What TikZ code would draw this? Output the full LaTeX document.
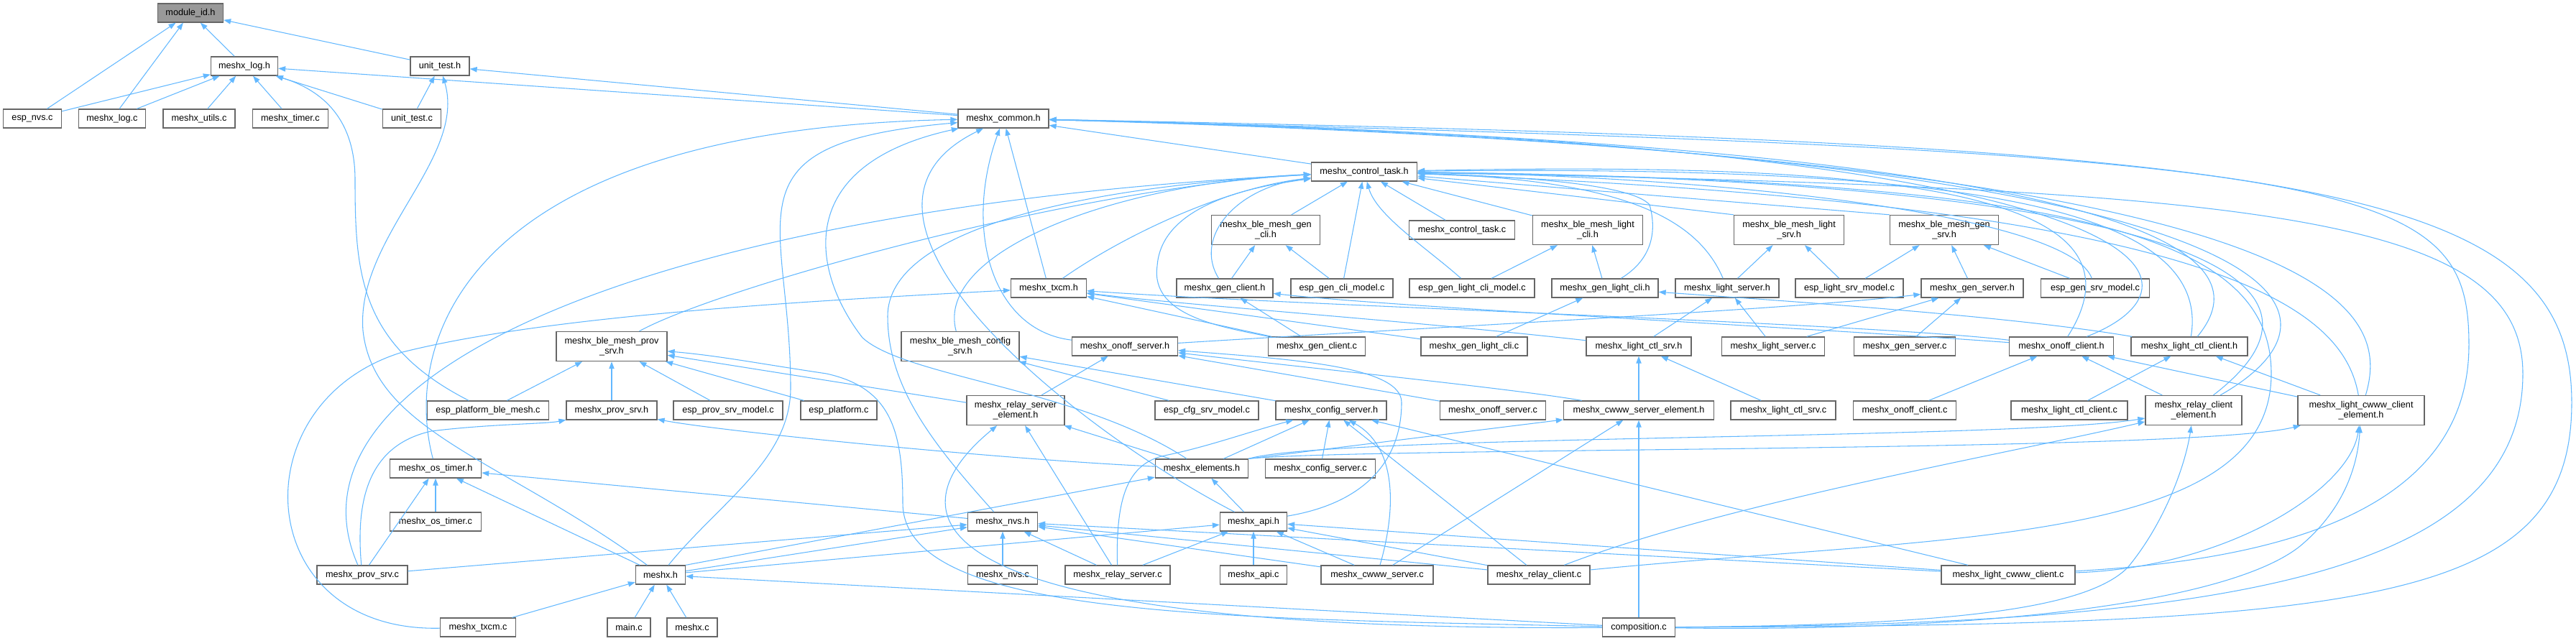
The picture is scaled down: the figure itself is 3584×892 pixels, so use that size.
\documentclass[tikz,border=0pt]{standalone}
\usepackage{fontspec}
\setmainfont{Liberation Sans}
\usetikzlibrary{arrows.meta}
\definecolor{depblue}{HTML}{63B8FF}
\definecolor{boxgray}{HTML}{666666}
\definecolor{rootgray}{HTML}{999999}
\tikzset{
  file/.style={draw=boxgray, line width=1pt, fill=white, inner sep=0pt,
    minimum height=26*0.75pt, font=\fontsize{9.5}{11}\selectfont},
  file2/.style={file, minimum height=41*0.75pt, align=center},
  bw/.style={minimum width=#1*0.75pt},
  dep/.style={draw=depblue, line width=0.8pt, -{Triangle[length=7.5pt,width=5.5pt]}}
}
\begin{document}
\begin{tikzpicture}[x=0.75pt, y=-0.75pt]
\useasboundingbox (0,0) rectangle (3584,892);
% one-line file boxes
\foreach \n/\x/\y/\w/\t in {
  logh/340/92/93/{meshx\_log.h}, uth/612/92/82/{unit\_test.h},
  nvsc/45/165/81/{esp\_nvs.c}, logc/156/165/93/{meshx\_log.c}, utilsc/277/165/100/{meshx\_utils.c},
  timerc/404/165/105/{meshx\_timer.c}, utc/573/165/81/{unit\_test.c}, commonh/1396/165/126/{meshx\_common.h},
  ctlh/1898/239/147/{meshx\_control\_task.h}, ctltaskc/2034/320/147/{meshx\_control\_task.c},
  txcmh/1459/401/105/{meshx\_txcm.h}, genclih/1704/401/134/{meshx\_gen\_client.h},
  espgenclic/1867/401/142/{esp\_gen\_cli\_model.c}, espgenlightclic/2048/401/174/{esp\_gen\_light\_cli\_model.c},
  genlightclih/2233/401/148/{meshx\_gen\_light\_cli.h}, lightsrvh/2403/401/144/{meshx\_light\_server.h},
  esplightsrvc/2573/401/150/{esp\_light\_srv\_model.c}, gensrvh/2744/401/142/{meshx\_gen\_server.h},
  espgensrvc/2915/401/151/{esp\_gen\_srv\_model.c},
  onoffsrvh/1565/482/147/{meshx\_onoff\_server.h}, genclic/1832/482/135/{meshx\_gen\_client.c},
  genlightclic/2051/482/148/{meshx\_gen\_light\_cli.c}, lightctlsrvh/2280/482/146/{meshx\_light\_ctl\_srv.h},
  lightsrvc/2467/482/143/{meshx\_light\_server.c}, gensrvc/2650/482/141/{meshx\_gen\_server.c},
  onoffclih/2868/482/145/{meshx\_onoff\_client.h}, lightctlclih/3046/482/162/{meshx\_light\_ctl\_client.h},
  espplatblec/679/571/169/{esp\_platform\_ble\_mesh.c}, provsrvh/851/571/126/{meshx\_prov\_srv.h},
  espprovsrvc/1013/571/152/{esp\_prov\_srv\_model.c}, espplatc/1167/571/106/{esp\_platform.c},
  espcfgsrvc/1679/571/144/{esp\_cfg\_srv\_model.c}, cfgsrvh/1852/571/154/{meshx\_config\_server.h},
  onoffsrvc/2077/571/147/{meshx\_onoff\_server.c}, cwwwsrvelh/2280/571/209/{meshx\_cwww\_server\_element.h},
  lightctlsrvc/2481/571/146/{meshx\_light\_ctl\_srv.c}, onoffclic/2650/571/143/{meshx\_onoff\_client.c},
  lightctlclic/2879/571/162/{meshx\_light\_ctl\_client.c},
  ostimerh/606/652/127/{meshx\_os\_timer.h}, elementsh/1672/652/129/{meshx\_elements.h},
  cfgsrvc/1837/652/153/{meshx\_config\_server.c},
  ostimerc/606/726/127/{meshx\_os\_timer.c}, nvsh/1395/726/97/{meshx\_nvs.h}, apih/1744/726/93/{meshx\_api.h},
  provsrvc/504/800/126/{meshx\_prov\_srv.c}, meshxh/919/800/69/{meshx.h}, mnvsc/1395/800/97/{meshx\_nvs.c},
  relaysrvc/1555/800/146/{meshx\_relay\_server.c}, apic/1744/800/93/{meshx\_api.c},
  cwwwsrvc/1916/800/156/{meshx\_cwww\_server.c}, relayclic/2141/800/142/{meshx\_relay\_client.c},
  lcwwwclic/2794/800/186/{meshx\_light\_cwww\_client.c},
  txcmc/665/873/105/{meshx\_txcm.c}, mainc/875/873/60/{main.c}, meshxc/963/873/70/{meshx.c},
  compc/2280/873/101/{composition.c}}
  \node[file, bw=\w] (\n) at (\x,\y) {\t};
% two-line file boxes
\foreach \n/\x/\y/\w/\t in {
  gencliblh/1761/320/151/{meshx\_ble\_mesh\_gen\\\_cli.h}, lightcliblh/2209/320/153/{meshx\_ble\_mesh\_light\\\_cli.h},
  lightsrvblh/2489/320/153/{meshx\_ble\_mesh\_light\\\_srv.h}, gensrvblh/2705/320/151/{meshx\_ble\_mesh\_gen\\\_srv.h},
  provblh/851/482/154/{meshx\_ble\_mesh\_prov\\\_srv.h}, cfgblh/1336/482/164/{meshx\_ble\_mesh\_config\\\_srv.h},
  relaysrvelh/1413/571/136/{meshx\_relay\_server\\\_element.h}, relayclielh/3052/571/134/{meshx\_relay\_client\\\_element.h},
  lcwwwclielh/3285/571/176/{meshx\_light\_cwww\_client\\\_element.h}}
  \node[file2, bw=\w] (\n) at (\x,\y) {\t};
\node[file, bw=91, fill=rootgray] (modid) at (265,18) {module\_id.h};
% straight dependencies
\foreach \a/\b in {nvsc/modid, logc/modid, logh/modid, uth/modid, nvsc/logh, logc/logh, utilsc/logh,
  timerc/logh, utc/logh, utc/uth, commonh/uth, commonh/logh, ctlh/commonh, txcmh/commonh,
  gencliblh/ctlh, espgenclic/ctlh, ctltaskc/ctlh, lightcliblh/ctlh, lightsrvblh.north west/ctlh,
  gensrvblh.north west/ctlh,
  genclic/txcmh, genlightclic/txcmh, genclic/genclih, genclih/gencliblh, espgenclic/gencliblh,
  espgenlightclic/lightcliblh, genlightclih/lightcliblh, genlightclic/genlightclih,
  lightsrvh/lightsrvblh, esplightsrvc/lightsrvblh, esplightsrvc/gensrvblh, gensrvh/gensrvblh,
  espgensrvc/gensrvblh, lightctlsrvh/lightsrvh, lightsrvc/lightsrvh, lightsrvc/gensrvh, gensrvc/gensrvh,
  lightctlsrvc/lightctlsrvh, cwwwsrvelh/lightctlsrvh, onoffsrvc/onoffsrvh, relaysrvelh/onoffsrvh,
  onoffclic/onoffclih, relayclielh/onoffclih, lcwwwclielh/onoffclih, lightctlclic/lightctlclih,
  lcwwwclielh/lightctlclih, espplatblec/provblh, provsrvh/provblh, espprovsrvc/provblh, espplatc/provblh,
  relaysrvelh/provblh, espcfgsrvc/cfgblh, cfgsrvh/cfgblh, elementsh/relaysrvelh,
  elementsh.north east/cwwwsrvelh, elementsh/cfgsrvh, meshxh.north east/elementsh, apih/elementsh,
  relaysrvc/relaysrvelh, cfgsrvc/cfgsrvh, relayclic/cfgsrvh, lcwwwclic/cfgsrvh, cwwwsrvc/cwwwsrvelh,
  compc/cwwwsrvelh, ostimerc/ostimerh, provsrvc/ostimerh, meshxh/ostimerh, nvsh/ostimerh, meshxh/nvsh,
  meshxh/apih, provsrvc/nvsh, mnvsc/nvsh, relaysrvc/nvsh, cwwwsrvc/nvsh, relayclic/nvsh, lcwwwclic/nvsh,
  apic/apih, relaysrvc/apih, cwwwsrvc/apih, relayclic/apih, lcwwwclic/apih, txcmc/meshxh, mainc/meshxh,
  meshxc/meshxh, compc/meshxh}
  \draw[dep] (\a) -- (\b);
% curved dependencies, left part
\draw[dep] (espplatblec) .. controls (500,480) and (494,380) .. (494,250) .. controls (494,150) and (430,120) .. (logh);
\draw[dep] (meshxh) .. controls (700,640) and (520,600) .. (505,460) .. controls (495,330) and (650,220) .. (uth);
\draw[dep] (ostimerh) .. controls (560,480) and (640,180) .. (commonh);
\draw[dep] (meshxh) .. controls (1000,700) and (1100,640) .. (1100,540) .. controls (1100,300) and (1000,200) .. (commonh);
\draw[dep] (elementsh) .. controls (1500,540) and (1260,525) .. (1200,470) .. controls (1130,380) and (1100,230) .. (commonh);
\draw[dep] (apih) .. controls (1500,600) and (1120,300) .. (commonh);
\draw[dep] (onoffsrvh) .. controls (1380,460) and (1340,320) .. (commonh);
\draw[dep] (provsrvc) .. controls (380,520) and (900,290) .. (ctlh);
\draw[dep] (provblh) .. controls (1000,400) and (1500,260) .. (ctlh);
\draw[dep] (cfgblh) .. controls (1300,350) and (1550,255) .. (ctlh);
\draw[dep] (nvsh) .. controls (1300,620) and (1235,540) .. (1235,440) .. controls (1235,320) and (1500,260) .. (ctlh);
\draw[dep] (txcmh) .. controls (1560,330) and (1700,262) .. (ctlh);
\draw[dep] (genclih) .. controls (1660,330) and (1720,260) .. (ctlh);
\draw[dep] (genclic) .. controls (1700,455) and (1600,440) .. (1610,370) .. controls (1615,300) and (1700,265) .. (ctlh);
\draw[dep] (txcmc) .. controls (350,880) and (330,560) .. (560,490) .. controls (760,440) and (1100,420) .. (txcmh);
\draw[dep] (provsrvc) .. controls (495,700) and (510,620) .. (600,600) .. controls (680,590) and (760,590) .. (provsrvh);
\draw[dep] (elementsh) .. controls (1400,640) and (1000,600) .. (provsrvh);
\draw[dep] (compc) .. controls (1700,860) and (1256,860) .. (1256,700) .. controls (1256,600) and (1240,540) .. (1150,520) .. controls (1050,505) and (1000,495) .. (provblh);
\draw[dep] (compc) .. controls (1150,880) and (1280,680) .. (relaysrvelh);
\draw[dep] (relaysrvc) .. controls (1552,690) and (1570,645) .. (1620,634) .. controls (1680,622) and (1740,600) .. (cfgsrvh);
\draw[dep] (cwwwsrvc) .. controls (1945,700) and (1940,620) .. (cfgsrvh);
% curved dependencies, right part
\draw[dep] (espgenlightclic) .. controls (1985,345) and (1915,300) .. (ctlh);
\draw[dep] (genlightclih) .. controls (2300,360) and (2305,320) .. (2295,285) .. controls (2270,255) and (2100,245) .. (ctlh);
\draw[dep] (lightsrvh) .. controls (2360,300) and (2250,250) .. (ctlh);
\draw[dep] (espgensrvc) .. controls (2880,300) and (2400,245) .. (ctlh);
\draw[dep] (onoffclih) .. controls (3010,260) and (2600,225) .. (ctlh);
\draw[dep] (lightctlclih) .. controls (3080,280) and (2700,230) .. (ctlh);
\draw[dep] (relayclielh) .. controls (3300,380) and (3000,250) .. (ctlh);
\draw[dep] (lcwwwclielh) .. controls (3260,430) and (3100,285) .. (ctlh);
\draw[dep] (relayclic) .. controls (2700,745) and (3160,760) .. (3160,520) .. controls (3160,330) and (2900,250) .. (ctlh);
\draw[dep] (compc) .. controls (3100,870) and (3510,800) .. (3510,520) .. controls (3510,300) and (3150,262) .. (ctlh);
\draw[dep] (onoffclih) .. controls (3080,400) and (3080,200) .. (commonh);
\draw[dep] (lightctlclih) .. controls (3130,380) and (3130,205) .. (commonh);
\draw[dep] (relayclielh) .. controls (3300,430) and (3230,210) .. (commonh);
\draw[dep] (lcwwwclielh) .. controls (3330,420) and (3250,215) .. (commonh);
\draw[dep] (lcwwwclic) .. controls (3150,780) and (3435,720) .. (3435,480) .. controls (3435,250) and (3300,212) .. (commonh);
\draw[dep] (compc) .. controls (3300,870) and (3578,840) .. (3578,560) .. controls (3578,250) and (3200,200) .. (commonh);
\draw[dep] (lightctlsrvh) .. controls (1950,445) and (1650,425) .. (txcmh);
\draw[dep] (onoffclih) .. controls (2600,450) and (1800,425) .. (txcmh);
\draw[dep] (onoffclih) .. controls (2500,455) and (1950,428) .. (genclih);
\draw[dep] (lightctlclih) .. controls (2800,440) and (2500,420) .. (genlightclih);
\draw[dep] (onoffsrvh) .. controls (2000,455) and (2500,430) .. (gensrvh);
\draw[dep] (cwwwsrvelh) .. controls (2100,540) and (1800,510) .. (onoffsrvh);
\draw[dep] (apih) .. controls (1900,700) and (1950,640) .. (1950,560) .. controls (1950,510) and (1800,500) .. (onoffsrvh);
\draw[dep] (elementsh.north east) .. controls (1850,605) and (2800,612) .. (relayclielh);
\draw[dep] (elementsh.north east) .. controls (1900,622) and (3050,630) .. (lcwwwclielh);
\draw[dep] (relayclic) .. controls (2400,700) and (2800,630) .. (relayclielh);
\draw[dep] (compc) .. controls (2700,870) and (2900,850) .. (2960,790) .. controls (3010,730) and (3040,650) .. (relayclielh);
\draw[dep] (compc) .. controls (2750,880) and (3100,840) .. (3200,760) .. controls (3260,710) and (3280,650) .. (lcwwwclielh);
\draw[dep] (lcwwwclic) .. controls (3100,790) and (3270,680) .. (lcwwwclielh);
\end{tikzpicture}
\end{document}
